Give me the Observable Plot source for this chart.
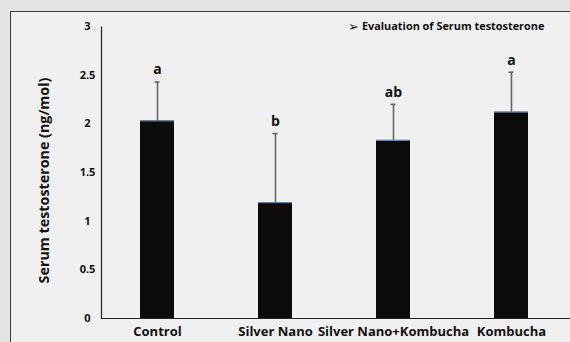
<!DOCTYPE html>
<html>
<head>
<meta charset="utf-8">
<script src="https://cdn.jsdelivr.net/npm/d3@7"></script>
<script src="https://cdn.jsdelivr.net/npm/@observablehq/plot@0.6"></script>
<style>
  html, body { margin: 0; padding: 0; background: #e3e3e3; }
  #wrap { position: relative; width: 570px; height: 342px; overflow: hidden; }
  #panel { position: absolute; left: 10px; top: 11px; right: -5px; bottom: -5px; background: #f0f0f0;
           border-top: 1.5px solid #3c3c3c; border-left: 1.5px solid #3c3c3c; }
  #chart { position: absolute; left: 0; top: 0; }
  #title { position: absolute; left: 348px; top: 18px; font: bold 10.9px "Open Sans", "DejaVu Sans", sans-serif; color: #111; white-space: nowrap; }
  #title .arrow { font: 13px "DejaVu Sans", sans-serif; margin-right: 3px; position: relative; top: 1px; }
</style>
</head>
<body>
<div id="wrap">
  <div id="panel"></div>
  <div id="chart"></div>
  <div id="title"><span class="arrow">➢</span>Evaluation of Serum testosterone</div>
</div>
<script>
const categories = ["Control", "Silver Nano", "Silver Nano+Kombucha", "Kombucha"];
const means = [2.03, 1.19, 1.83, 2.12];
const errorTops = [2.43, 1.90, 2.20, 2.53];
const letters = ["a", "b", "ab", "a"];
const yTicks = [0, 0.5, 1, 1.5, 2, 2.5, 3];

const data = categories.map((c, i) => ({cat: c, mean: means[i], top: errorTops[i], letter: letters[i]}));
const font = "'Open Sans', Lato, sans-serif";

const W = 570, H = 342, mt = 26, mb = 24, ml = 101, mr = 3;
const fw = W - ml - mr, fh = H - mt - mb;

const chart = Plot.plot({
  width: W,
  height: H,
  marginTop: mt,
  marginBottom: mb,
  marginLeft: ml,
  marginRight: mr,
  style: {background: "transparent", fontFamily: font, color: "#111"},
  x: {domain: categories, paddingInner: 0.712, paddingOuter: 0.33, label: null},
  y: {domain: [0, 3], label: null},
  marks: [
    Plot.ruleX(data, {x: "cat", y1: "mean", y2: "top", stroke: "#666", strokeWidth: 1.6}),
    Plot.tickY(data, {x: "cat", y: "top", stroke: "#666", strokeWidth: 1.6, insetLeft: 14.5, insetRight: 14.5}),
    Plot.barY(data, {x: "cat", y: "mean", fill: "#0b0b0b"}),
    Plot.tickY(data, {x: "cat", y: "mean", stroke: "#6d8fb5", strokeWidth: 1}),
    Plot.text(data, {x: "cat", y: "top", text: "letter", dy: -12, fontSize: 14, fontWeight: "bold", fill: "#111"}),
    Plot.axisY({ticks: yTicks, tickFormat: d => String(d), tickSize: 0, tickPadding: 14, textAnchor: "middle",
                fontSize: 11, fontWeight: "bold", label: null}),
    Plot.axisX({tickSize: 0, tickPadding: 8, fontSize: 13, fontWeight: "bold", label: null}),
    Plot.text(["Serum testosterone (ng/mol)"], {frameAnchor: "left", textAnchor: "middle", rotate: -90, dx: -57, dy: 8,
                fontSize: 14.3, fontWeight: "bold", fill: "#111"}),
    // draws only the bottom and left sides of the frame
    Plot.frame({stroke: "#222", strokeWidth: 1.2, strokeDasharray: `0 ${fw + fh} ${fw + fh} 0`}),
    Plot.ruleY([0], {stroke: "#222", strokeWidth: 1.2, insetRight: -5})
  ]
});
document.getElementById("chart").appendChild(chart);
</script>
</body>
</html>
